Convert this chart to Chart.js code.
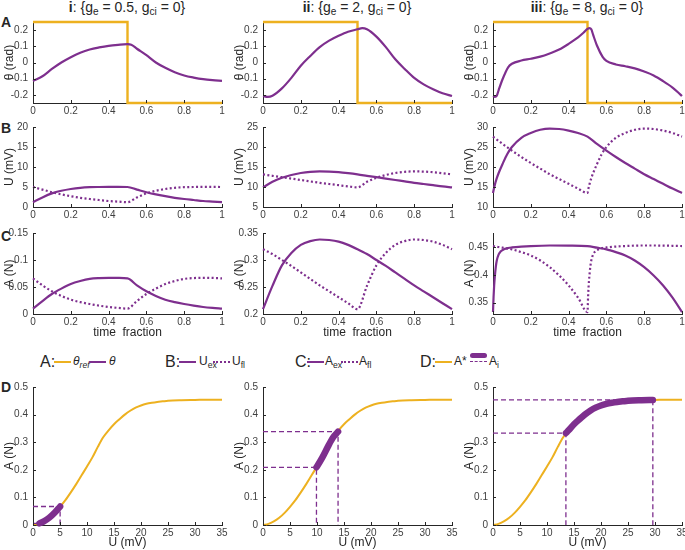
<!DOCTYPE html>
<html><head><meta charset="utf-8">
<script src="https://cdn.jsdelivr.net/npm/chart.js@4/dist/chart.umd.min.js"></script>
<style>
html,body{margin:0;padding:0;background:#fff;overflow:hidden;width:685px;height:550px;}
#wrap{position:relative;width:685px;height:550px;overflow:hidden;font-family:"Liberation Sans Narrow","Liberation Sans",Arial,sans-serif;color:#262626;}
canvas{position:absolute;}
.t{position:absolute;white-space:nowrap;line-height:1;}
.title{font-size:14px;transform:translateX(-50%);top:0px;}
.plab{font-weight:bold;font-size:14px;left:1px;font-family:"Liberation Sans",Arial,sans-serif;}
.lg{font-size:12px;}
.lgh{font-size:16px;}
sub{font-size:72%;vertical-align:-0.3em;line-height:0;}
.ln{position:absolute;height:0;}
</style></head>
<body><div id="wrap">
<div class="t title" style="left:127px"><b>i</b>: {g<sub>e</sub> = 0.5, g<sub>ci</sub> = 0}</div>
<div class="t title" style="left:357px"><b>ii</b>: {g<sub>e</sub> = 2, g<sub>ci</sub> = 0}</div>
<div class="t title" style="left:587px"><b>iii</b>: {g<sub>e</sub> = 8, g<sub>ci</sub> = 0}</div>
<div class="t plab" style="top:15px">A</div>
<div class="t plab" style="top:121px">B</div>
<div class="t plab" style="top:229px">C</div>
<div class="t plab" style="top:380px">D</div>

<div class="t lgh" style="left:40px;top:354px">A:</div>
<div class="ln" style="left:54px;top:361px;width:17px;border-top:2px solid #EDB120"></div>
<div class="t lg" style="left:73px;top:355px"><i>θ<sub>ref</sub></i></div>
<div class="ln" style="left:89px;top:361px;width:17px;border-top:2px solid #7E2F8E"></div>
<div class="t lg" style="left:109px;top:355px"><i>θ</i></div>

<div class="t lgh" style="left:165px;top:354px">B:</div>
<div class="ln" style="left:179px;top:361px;width:17px;border-top:2px solid #7E2F8E"></div>
<div class="t lg" style="left:199px;top:355px">U<sub>ex</sub></div>
<div class="ln" style="left:213px;top:361px;width:17px;border-top:2px dotted #7E2F8E"></div>
<div class="t lg" style="left:232px;top:355px">U<sub>fl</sub></div>

<div class="t lgh" style="left:295px;top:354px">C:</div>
<div class="ln" style="left:307px;top:361px;width:17px;border-top:2px solid #7E2F8E"></div>
<div class="t lg" style="left:325px;top:355px">A<sub>ex</sub></div>
<div class="ln" style="left:341px;top:361px;width:17px;border-top:2px dotted #7E2F8E"></div>
<div class="t lg" style="left:359px;top:355px">A<sub>fl</sub></div>

<div class="t lgh" style="left:420px;top:354px">D:</div>
<div class="ln" style="left:435px;top:361px;width:17px;border-top:2px solid #EDB120"></div>
<div class="t lg" style="left:454px;top:355px">A*</div>
<div class="ln" style="left:470px;top:353px;width:17px;height:5px;background:#7E2F8E;border-radius:3px"></div>
<div class="ln" style="left:470px;top:361px;width:17px;border-top:1.5px dashed #7E2F8E"></div>
<div class="t lg" style="left:489px;top:355px">A<sub>i</sub></div>
</div>
<script>
// ---------- data ----------
const tGrid = [0,0.05,0.1,0.15,0.2,0.25,0.3,0.35,0.4,0.45,0.5,0.55,0.6,0.65,0.7,0.75,0.8,0.85,0.9,0.95,1];
const tRef = [0,0.5,0.5,1];
const thetaRef = [0.25,0.25,-0.25,-0.25];

const tTheta1 = [0,0.05,0.1,0.15,0.2,0.25,0.3,0.35,0.4,0.45,0.5,0.52,0.55,0.6,0.65,0.7,0.75,0.8,0.85,0.9,0.95,1];
const theta1  = [-0.114,-0.085,-0.04,0.0,0.033,0.06,0.08,0.093,0.103,0.109,0.113,0.11,0.085,0.045,0.0,-0.033,-0.06,-0.08,-0.093,-0.103,-0.109,-0.113];
const tTheta2 = [0,0.025,0.05,0.1,0.15,0.2,0.25,0.3,0.35,0.4,0.45,0.5,0.525,0.55,0.6,0.65,0.7,0.75,0.8,0.85,0.9,0.95,1];
const theta2  = [-0.207,-0.212,-0.205,-0.16,-0.095,-0.02,0.04,0.095,0.135,0.165,0.19,0.205,0.212,0.205,0.16,0.095,0.02,-0.04,-0.095,-0.135,-0.165,-0.19,-0.207];
const tTheta3 = [0,0.01,0.02,0.03,0.05,0.08,0.1,0.15,0.2,0.25,0.3,0.35,0.4,0.45,0.48,0.5,0.51,0.52,0.53,0.55,0.58,0.6,0.65,0.7,0.75,0.8,0.85,0.9,0.95,0.98,1];
const theta3  = [-0.207,-0.212,-0.205,-0.17,-0.105,-0.03,-0.008,0.012,0.023,0.036,0.056,0.08,0.115,0.155,0.185,0.207,0.212,0.205,0.17,0.105,0.035,0.01,-0.012,-0.023,-0.036,-0.056,-0.08,-0.115,-0.155,-0.185,-0.207];

const Uex1 = [1.2,2.4,3.4,4.05,4.5,4.8,4.95,5.0,5.02,5.02,5.0,4.35,3.7,3.15,2.7,2.3,2.0,1.75,1.5,1.35,1.2];
const Ufl1 = [5.0,4.35,3.7,3.15,2.7,2.3,2.0,1.75,1.5,1.35,1.2,2.4,3.4,4.05,4.5,4.8,4.95,5.0,5.02,5.02,5.0];
const Uex2 = [9.9,11.3,12.3,13.0,13.5,13.8,13.9,13.85,13.7,13.45,13.15,12.8,12.45,12.1,11.75,11.4,11.05,10.75,10.45,10.15,9.9];
const Ufl2 = [13.15,12.8,12.45,12.1,11.75,11.4,11.05,10.75,10.45,10.15,9.9,11.3,12.3,13.0,13.5,13.8,13.9,13.85,13.7,13.45,13.15];
const tUex3 = [0,0.005,0.01,0.02,0.03,0.05,0.075,0.1,0.15,0.2,0.25,0.3,0.35,0.4,0.45,0.5,0.55,0.6,0.65,0.7,0.75,0.8,0.85,0.9,0.95,1];
const Uex3  = [13.5,14.6,15.6,17.2,18.5,20.7,23.2,25.0,27.3,28.5,29.3,29.6,29.5,29.1,28.5,27.6,25.8,24.1,22.5,21.0,19.6,18.2,17.0,15.8,14.6,13.5];
const tUfl3 = [0,0.05,0.1,0.15,0.2,0.25,0.3,0.35,0.4,0.45,0.5,0.505,0.51,0.52,0.53,0.55,0.575,0.6,0.65,0.7,0.75,0.8,0.85,0.9,0.95,1];
const Ufl3  = [27.6,25.8,24.1,22.5,21.0,19.6,18.2,17.0,15.8,14.6,13.5,14.6,15.6,17.2,18.5,20.7,23.2,25.0,27.3,28.5,29.3,29.6,29.5,29.1,28.5,27.6];

const Aex1 = [0.01,0.024,0.037,0.047,0.0555,0.061,0.065,0.0665,0.067,0.0668,0.066,0.053,0.042,0.0335,0.0265,0.022,0.0185,0.0155,0.013,0.0113,0.01];
const Afl1 = [0.066,0.053,0.042,0.0335,0.0265,0.022,0.0185,0.0155,0.013,0.0113,0.01,0.024,0.037,0.047,0.0555,0.061,0.065,0.0665,0.067,0.0668,0.066];
const Aex2 = [0.209,0.252,0.29,0.313,0.328,0.335,0.338,0.337,0.334,0.328,0.32,0.311,0.3,0.289,0.277,0.265,0.253,0.242,0.231,0.22,0.209];
const Afl2 = [0.32,0.311,0.3,0.289,0.277,0.265,0.253,0.242,0.231,0.22,0.209,0.252,0.29,0.313,0.328,0.335,0.338,0.337,0.334,0.328,0.32];
const tAex3 = [0,0.003,0.006,0.01,0.015,0.02,0.03,0.04,0.06,0.08,0.1,0.15,0.2,0.3,0.4,0.5,0.55,0.6,0.65,0.7,0.75,0.8,0.85,0.9,0.95,1];
const Aex3  = [0.333,0.36,0.38,0.398,0.415,0.426,0.437,0.442,0.4465,0.4485,0.4495,0.451,0.452,0.453,0.4528,0.452,0.449,0.446,0.441,0.435,0.426,0.414,0.399,0.381,0.359,0.333];
const tAfl3 = [0,0.05,0.1,0.15,0.2,0.25,0.3,0.35,0.4,0.45,0.5,0.503,0.506,0.51,0.515,0.52,0.53,0.54,0.56,0.58,0.6,0.65,0.7,0.8,0.9,1];
const Afl3  = [0.452,0.449,0.446,0.441,0.435,0.426,0.414,0.399,0.381,0.359,0.333,0.36,0.38,0.398,0.415,0.426,0.437,0.442,0.4465,0.4485,0.4495,0.451,0.452,0.453,0.4528,0.452];

const curveU = [0,1,2,3,4,5,6,7,8,9,10,11,12,13,14,15,16,17,18,19,20,21,22,23,24,25,27.5,30,32.5,35];
const curveA = [0,0.004,0.013,0.026,0.044,0.066,0.09,0.118,0.148,0.18,0.212,0.245,0.283,0.318,0.343,0.365,0.383,0.4,0.414,0.425,0.433,0.439,0.443,0.446,0.448,0.45,0.452,0.453,0.454,0.454];
const AiU1 = [1.2,2,3,4,5.02];           const AiA1 = [0.006,0.013,0.026,0.044,0.067];
const AiU2 = [9.9,10,11,12,13,13.9];     const AiA2 = [0.209,0.212,0.245,0.283,0.318,0.338];
const AiU3 = [13.5,14,15,16,17,18,19,20,21,22,23,24,25,27.5,29.6];
const AiA3 = [0.333,0.343,0.365,0.383,0.4,0.414,0.425,0.433,0.439,0.443,0.446,0.448,0.45,0.452,0.453];
const guideU = [[1.2,5.02],[9.9,13.9],[13.5,29.6]];
const guideA = [[0.006,0.067],[0.209,0.338],[0.333,0.453]];

const ticksT = [0,0.2,0.4,0.6,0.8,1];
const ticksTheta = [-0.2,-0.1,0,0.1,0.2];
const ticksU = [[0,5,10,15,20],[5,10,15,20,25],[10,15,20,25,30]];
const rangeU = [[0,20],[5,25],[10,30]];
const ticksA = [[0,0.05,0.1,0.15],[0.2,0.25,0.3,0.35],[0.35,0.4,0.45]];
const rangeA = [[0,0.15],[0.2,0.35],[0.3295,0.4755]];
const ticksDU = [0,5,10,15,20,25,30,35];
const ticksDA = [0,0.1,0.2,0.3,0.4,0.5];

// ---------- drawing ----------
const PURPLE = '#7E2F8E', ORANGE = '#EDB120', AXIS = '#262626', TICKC = '#404040';
const FONT = '"Liberation Sans Narrow","Liberation Sans",Arial,sans-serif';
const wrap = document.getElementById('wrap');
const fmt = v => String(+Number(v).toFixed(3));
const xy = (xs, ys) => xs.map((x,i)=>({x:x,y:ys[i]}));

const inTicks = {
  id:'inTicks',
  afterDraw(chart){
    const ctx = chart.ctx, a = chart.chartArea, xs = chart.scales.x, ys = chart.scales.y;
    ctx.save(); ctx.strokeStyle = AXIS; ctx.lineWidth = 1;
    xs.ticks.forEach(t=>{const p=Math.round(xs.getPixelForValue(t.value))+0.5; ctx.beginPath(); ctx.moveTo(p,a.bottom); ctx.lineTo(p,a.bottom-3); ctx.stroke();});
    ys.ticks.forEach(t=>{const p=Math.round(ys.getPixelForValue(t.value))+0.5; ctx.beginPath(); ctx.moveTo(a.left,p); ctx.lineTo(a.left+3,p); ctx.stroke();});
    ctx.restore();
  }
};

function ds(xs, ys, color, opt){
  opt = opt || {};
  return Object.assign({
    data: xy(xs, ys), borderColor: color, borderWidth: 2.2, pointRadius: 0, fill: false,
    cubicInterpolationMode: 'monotone', borderJoinStyle: 'round', borderCapStyle: 'butt', clip: 8
  }, opt);
}

function panel(plotLeft, plotTop, w, h, padB, datasets, xr, xticks, yr, yticks, ytitle, xtitle, xtpad){
  const padL = 33, padT = 6, padR = 12;
  const W = padL + w + padR, H = padT + h + padB;
  const c = document.createElement('canvas');
  c.width = W; c.height = H;
  c.style.left = (plotLeft - padL) + 'px'; c.style.top = (plotTop - padT) + 'px';
  c.style.width = W + 'px'; c.style.height = H + 'px';
  wrap.appendChild(c);
  const tickFont = {family: FONT, size: 10};
  const titleFont = {family: FONT, size: 12};
  new Chart(c, {
    type: 'line',
    data: {datasets: datasets},
    options: {
      responsive: false, animation: false, devicePixelRatio: 1,
      layout: {padding: {left: 0, top: padT, right: padR, bottom: 0}},
      plugins: {legend: {display: false}, tooltip: {enabled: false}},
      scales: {
        x: {
          type: 'linear', position: 'bottom', min: xr[0], max: xr[1],
          afterBuildTicks: s => { s.ticks = xticks.map(v => ({value: v})); },
          afterFit: s => { s.height = padB; s.paddingLeft = 0; s.paddingRight = 0; s.paddingTop = 0; s.paddingBottom = 0; },
          ticks: {autoSkip: false, maxRotation: 0, minRotation: 0, padding: 2, color: TICKC, font: tickFont, callback: v => fmt(v)},
          grid: {display: true, drawOnChartArea: false, drawTicks: false, color: AXIS},
          border: {display: true, color: AXIS, width: 1},
          title: xtitle ? {display: true, text: xtitle, color: AXIS, font: titleFont, padding: {top: 0, bottom: xtpad}} : {display: false}
        },
        y: {
          type: 'linear', position: 'left', min: yr[0], max: yr[1],
          afterBuildTicks: s => { s.ticks = yticks.map(v => ({value: v})); },
          afterFit: s => { s.width = padL; s.paddingLeft = 0; s.paddingRight = 0; s.paddingTop = 0; s.paddingBottom = 0; },
          ticks: {autoSkip: false, padding: 5, color: TICKC, font: tickFont, callback: v => fmt(v)},
          grid: {display: true, drawOnChartArea: false, drawTicks: false, color: AXIS},
          border: {display: true, color: AXIS, width: 1},
          title: {display: true, text: ytitle, color: AXIS, font: titleFont, padding: {top: 2, bottom: 0}}
        }
      }
    },
    plugins: [inTicks]
  });
}

const cols = [33, 263, 493];
const PW = 189;
const thetaT = [tTheta1, tTheta2, tTheta3];
const thetas = [theta1, theta2, theta3];
const UexT = [tGrid, tGrid, tUex3], UexV = [Uex1, Uex2, Uex3];
const UflT = [tGrid, tGrid, tUfl3], UflV = [Ufl1, Ufl2, Ufl3];
const AexT = [tGrid, tGrid, tAex3], AexV = [Aex1, Aex2, Aex3];
const AflT = [tGrid, tGrid, tAfl3], AflV = [Afl1, Afl2, Afl3];
const AiU = [AiU1, AiU2, AiU3], AiA = [AiA1, AiA2, AiA3];
const DOT = [2, 2.4];

// Note: Chart.js paints dataset 0 on top, so the top-most mark is listed first.
for (let i = 0; i < 3; i++) {
  const L = cols[i];
  // Row A
  panel(L, 22, PW, 81, 22, [
    ds(thetaT[i], thetas[i], PURPLE),
    ds(tRef, thetaRef, ORANGE, {cubicInterpolationMode: 'default', tension: 0, borderWidth: 2.4, borderJoinStyle: 'miter'})
  ], [0,1], ticksT, [-0.25,0.25], ticksTheta, 'θ (rad)', null, 0);
  // Row B
  panel(L, 127, PW, 80, 22, [
    ds(UexT[i], UexV[i], PURPLE),
    ds(UflT[i], UflV[i], PURPLE, {borderDash: DOT})
  ], [0,1], ticksT, rangeU[i], ticksU[i], 'U (mV)', null, 0);
  // Row C
  panel(L, 233, PW, 81, 30, [
    ds(AexT[i], AexV[i], PURPLE),
    ds(AflT[i], AflV[i], PURPLE, {borderDash: DOT})
  ], [0,1], ticksT, rangeA[i], ticksA[i], 'A (N)', 'time  fraction', 4);
  // Row D
  const gU = guideU[i], gA = guideA[i];
  const guideOpt = {cubicInterpolationMode: 'default', tension: 0, borderWidth: 1.3, borderDash: [5,3], borderJoinStyle: 'miter'};
  panel(L, 387, PW, 138, 30, [
    ds(AiU[i], AiA[i], PURPLE, {borderWidth: 6.5, borderCapStyle: 'round'}),
    ds([0, gU[0], gU[0]], [gA[0], gA[0], 0], PURPLE, guideOpt),
    ds([0, gU[1], gU[1]], [gA[1], gA[1], 0], PURPLE, guideOpt),
    ds(curveU, curveA, ORANGE, {borderWidth: 2})
  ], [0,35], ticksDU, [0,0.5], ticksDA, 'A (N)', 'U (mV)', 5);
}
</script>
</body></html>
